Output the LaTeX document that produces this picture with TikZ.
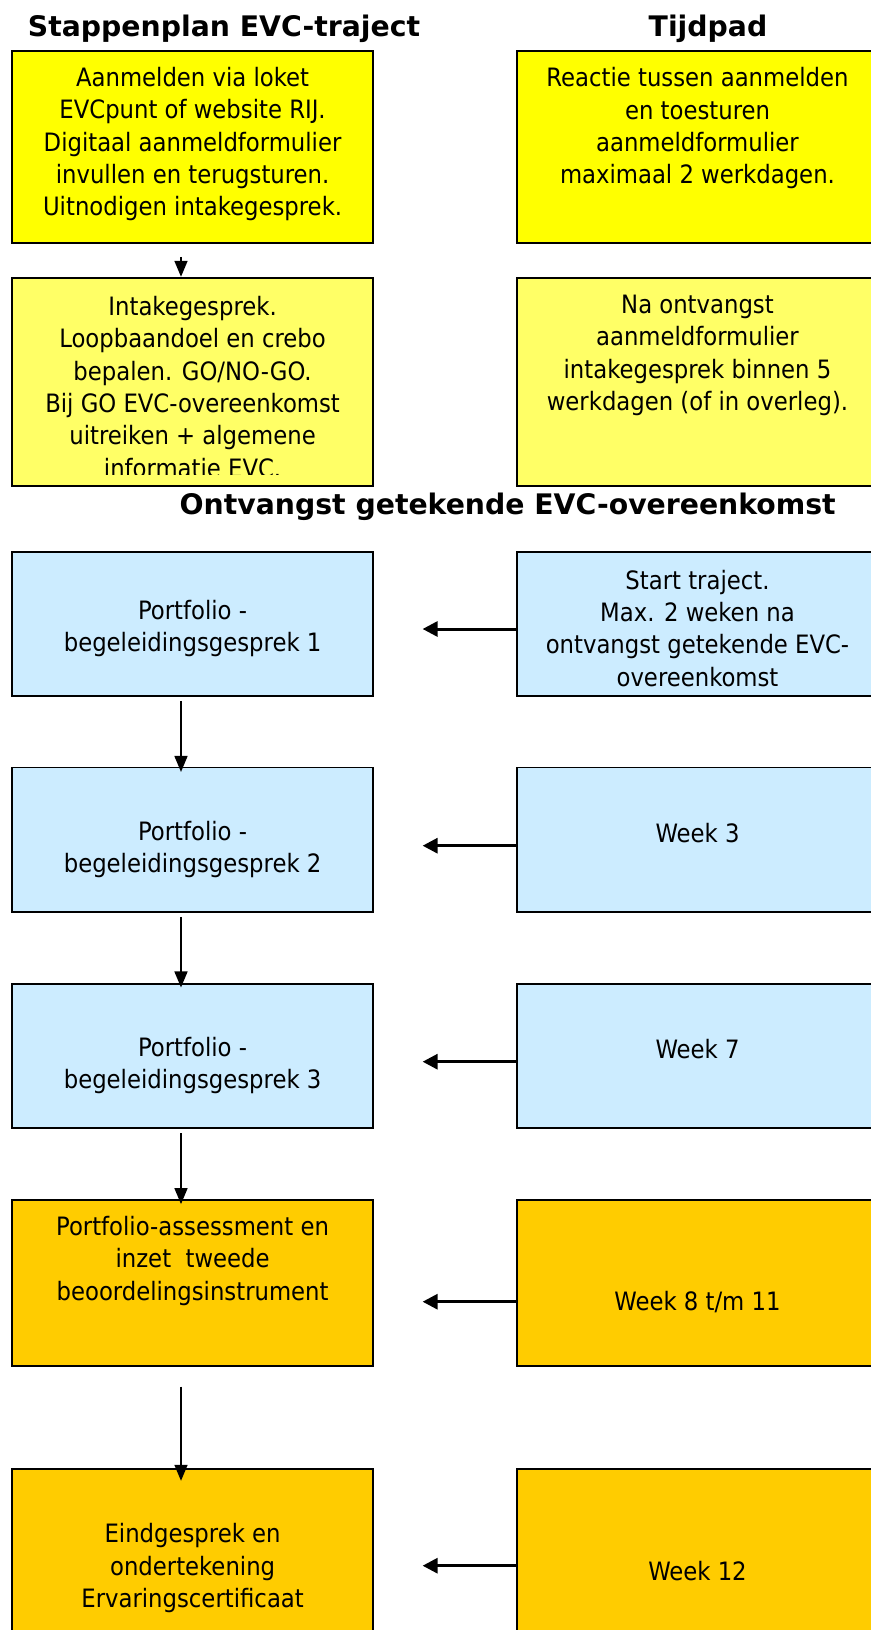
\documentclass[tikz,border=0pt]{standalone}
\usepackage{fontspec}
\setmainfont{DejaVu Sans Condensed}
\newfontfamily\headfont{DejaVu Sans}
\usetikzlibrary{arrows.meta,positioning}
\definecolor{evcyellow}{HTML}{FFFF00}
\definecolor{evcpale}{HTML}{FFFF66}
\definecolor{evcblue}{HTML}{CCECFF}
\definecolor{evcorange}{HTML}{FFCC00}
\begin{document}
\begin{tikzpicture}[
  x=1pt, y=-1pt,
  every node/.style={font=\fontsize{25.3}{32.3}\selectfont},
  stepbox/.style={draw, line width=1.8pt, minimum width=360.7pt, inner sep=0pt},
  firstrow/.style={stepbox, fill=evcyellow, minimum height=192.6pt},
  secondrow/.style={stepbox, fill=evcpale, minimum height=208pt},
  bluebox/.style={stepbox, fill=evcblue, minimum height=144.3pt},
  orangebox/.style={stepbox, fill=evcorange},
  txt/.style={align=center, inner sep=0pt},
  head/.style={inner sep=0pt, font=\headfont\bfseries\fontsize{28.3}{34}\selectfont},
  flow/.style={-{Triangle[length=16pt,width=13pt]}, line width=1.6pt},
  link/.style={-{Triangle[length=15pt,width=15pt]}, line width=3pt}]

\useasboundingbox (0,0) rectangle (870,1630);

\node[head] (plan) at (224,29)  {Stappenplan EVC-traject};
\node[head] (tijd) at (708,29)  {Tijdpad};

\node[firstrow] (step1) at (192.6,147) {};
\node[firstrow] (time1) at (697.5,147) {};
\node[txt] (step1txt) at (192.6,144.3) {Aanmelden via loket\\EVCpunt of website RIJ.\\Digitaal aanmeldformulier\\invullen en terugsturen.\\Uitnodigen intakegesprek.};
\node[txt] (time1txt) at (697.5,128.3) {Reactie tussen aanmelden\\en toesturen\\aanmeldformulier\\maximaal 2 werkdagen.};

\node[secondrow, path picture={
  \clip ([yshift=11pt]path picture bounding box.south west) rectangle (path picture bounding box.north east);
  \node[txt] (step2txt) at ([yshift=-5.3pt]path picture bounding box.center) {Intakegesprek.\\Loopbaandoel en crebo\\bepalen. GO/NO-GO.\\Bij GO EVC-overeenkomst\\uitreiken + algemene\\informatie EVC.};
  }] (step2) at (192.6,381.7) {};
\node[secondrow] (time2) at (697.5,381.7) {};
\node[txt] (time2txt) at (697.5,355.3) {Na ontvangst\\aanmeldformulier\\intakegesprek binnen 5\\werkdagen (of in overleg).};

\node[head] (signed) at (507.7,506.5) {Ontvangst getekende EVC-overeenkomst};

\node[bluebox] (gesprek1) at (192.6,623.9) {};
\node[bluebox] (start)    at (697.5,623.9) {};
\node[txt] (gesprek1txt) at (192.6,628.3) {Portfolio -\\begeleidingsgesprek 1};
\node[txt] (starttxt)    at (697.5,628.3) {Start traject.\\Max. 2 weken na\\ontvangst getekende EVC-\\overeenkomst};

\node[bluebox] (gesprek2) at (192.6,839.7) {};
\node[bluebox] (week3)    at (697.5,839.7) {};
\node[txt] (gesprek2txt) at (192.6,849.4) {Portfolio -\\begeleidingsgesprek 2};
\node[txt] (week3txt)    at (697.5,833)   {Week 3};

\node[bluebox] (gesprek3) at (192.6,1056.2) {};
\node[bluebox] (week7)    at (697.5,1056.2) {};
\node[txt] (gesprek3txt) at (192.6,1065.4) {Portfolio -\\begeleidingsgesprek 3};
\node[txt] (week7txt)    at (697.5,1049)   {Week 7};

\node[orangebox, minimum height=166pt] (assess) at (192.6,1283) {};
\node[orangebox, minimum height=166pt] (week8)  at (697.5,1283) {};
\node[txt] (assesstxt) at (192.6,1261)   {Portfolio-assessment en\\inzet~~tweede\\beoordelingsinstrument};
\node[txt] (week8txt)  at (697.5,1301.7) {Week 8 t/m 11};

\node[orangebox, minimum height=181pt] (eind)   at (192.6,1559.5) {};
\node[orangebox, minimum height=181pt] (week12) at (697.5,1559.5) {};
\node[txt] (eindtxt)   at (192.6,1568)   {Eindgesprek en\\ondertekening\\Ervaringscertificaat};
\node[txt] (week12txt) at (697.5,1570.7) {Week 12};

\draw[flow] ([xshift=-11.6pt,yshift=-12.7pt]step1.south) -- ([xshift=-11.6pt]step2.north);
\draw[flow] ([xshift=-11.6pt,yshift=-4pt]gesprek1.south) -- ([xshift=-11.6pt,yshift=-5.3pt]gesprek2.north);
\draw[flow] ([xshift=-11.6pt,yshift=-4.1pt]gesprek2.south) -- ([xshift=-11.6pt,yshift=-4.3pt]gesprek3.north);
\draw[flow] ([xshift=-11.6pt,yshift=-4pt]gesprek3.south) -- ([xshift=-11.6pt,yshift=-5pt]assess.north);
\draw[flow] ([xshift=-11.6pt,yshift=-19.7pt]assess.south) -- ([xshift=-11.6pt,yshift=-12.7pt]eind.north);

\draw[link] ([yshift=-5.1pt]start.west)  -- ([xshift=48.75pt,yshift=-5.1pt]gesprek1.east);
\draw[link] ([yshift=-6pt]week3.west)    -- ([xshift=48.75pt,yshift=-6pt]gesprek2.east);
\draw[link] ([yshift=-5.5pt]week7.west)  -- ([xshift=48.75pt,yshift=-5.5pt]gesprek3.east);
\draw[link] ([yshift=-18.7pt]week8.west) -- ([xshift=48.75pt,yshift=-18.7pt]assess.east);
\draw[link] ([yshift=-6.2pt]week12.west) -- ([xshift=48.75pt,yshift=-6.2pt]eind.east);
\end{tikzpicture}
\end{document}
